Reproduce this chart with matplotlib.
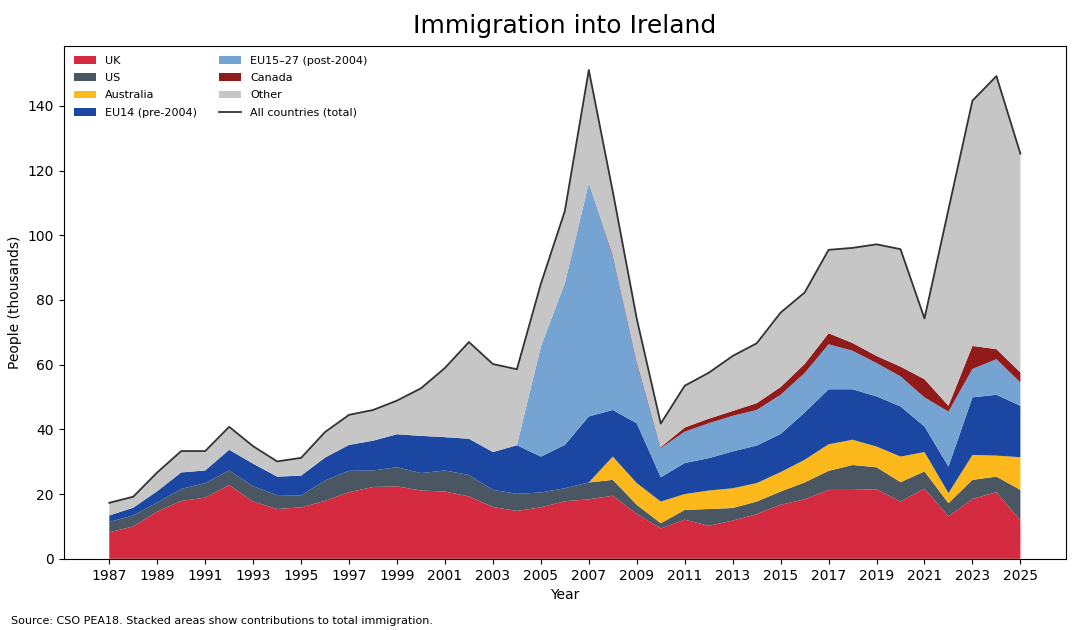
import numpy as np
import matplotlib
matplotlib.use("Agg")
import matplotlib.pyplot as plt

# Years covered by CSO PEA18
years = np.arange(1987, 2026)

# Immigration by origin (thousands)
uk = [8.2, 10.0, 14.6, 17.9, 18.9, 22.8, 17.7, 15.4, 15.9, 17.9, 20.6, 22.2, 22.4,
      21.1, 20.8, 19.3, 16.0, 14.8, 15.9, 17.8, 18.4, 19.5, 13.9, 9.4, 12.1, 10.2,
      11.8, 13.8, 16.7, 18.4, 21.3, 21.3, 21.5, 17.7, 21.7, 13.1, 18.5, 20.6, 11.8]
us = [3.2, 3.4, 2.8, 3.7, 4.5, 4.5, 4.7, 4.3, 3.7, 6.3, 6.6, 5.1, 5.9,
      5.4, 6.5, 6.6, 5.3, 5.3, 4.6, 4.0, 5.2, 4.9, 2.8, 1.6, 3.0, 5.2,
      3.9, 3.9, 4.1, 5.2, 5.9, 7.7, 6.8, 6.0, 5.3, 4.1, 5.9, 4.8, 9.5]
australia = [0, 0, 0, 0, 0, 0, 0, 0, 0, 0, 0, 0, 0,
             0, 0, 0, 0, 0, 0, 0, 0, 7.2, 6.7, 6.7, 4.9, 5.7,
             6.1, 5.7, 6.0, 7.0, 8.2, 7.8, 6.4, 7.9, 6.0, 3.1, 7.7, 6.5, 10.1]
eu14 = [2.0, 2.4, 3.5, 5.1, 3.9, 6.4, 7.0, 5.7, 6.1, 7.1, 8.0, 9.2, 10.2,
        11.5, 10.3, 11.2, 11.7, 15.0, 11.1, 13.4, 20.4, 14.4, 18.5, 7.5, 9.6, 10.0,
        11.4, 11.6, 11.8, 14.6, 17.0, 15.6, 15.5, 15.5, 7.9, 8.2, 17.8, 18.8, 15.9]
eu15_27 = [0, 0, 0, 0, 0, 0, 0, 0, 0, 0, 0, 0, 0,
           0, 0, 0, 0, 0, 34.0, 50.0, 72.1, 47.4, 18.6, 9.0, 9.7, 10.8,
           11.0, 11.0, 12.1, 12.2, 13.9, 11.9, 10.3, 9.3, 9.0, 17.0, 8.8, 11.0, 7.2]
canada = [0, 0, 0, 0, 0, 0, 0, 0, 0, 0, 0, 0, 0,
          0, 0, 0, 0, 0, 0, 0, 0, 0.5, 0.5, 0.3, 1.3, 1.4,
          1.5, 2.1, 2.4, 2.8, 3.4, 2.4, 2.2, 3.0, 5.6, 1.8, 7.1, 3.1, 3.1]
total = [17.3, 19.2, 26.7, 33.3, 33.3, 40.8, 34.8, 30.1, 31.2, 39.2, 44.5, 46.0, 48.9,
         52.7, 59.0, 67.0, 60.2, 58.6, 85.0, 107.5, 151.1, 113.5, 74.2, 41.8, 53.5, 57.5,
         62.7, 66.6, 76.1, 82.3, 95.5, 96.1, 97.2, 95.7, 74.3, 108.0, 141.6, 149.2, 125.2]

stack = [uk, us, australia, eu14, eu15_27, canada]
other = np.array(total) - np.sum(stack, axis=0)

labels = ["UK", "US", "Australia", "EU14 (pre-2004)", "EU15\u201327 (post-2004)",
          "Canada", "Other"]
colors = ["#d42b40", "#4a5661", "#fdb81b", "#1b47a2", "#75a4d3", "#911a1a", "#c6c6c6"]

fig, ax = plt.subplots(figsize=(10.8, 6.3), dpi=100)
fig.subplots_adjust(left=0.059, right=0.987, top=0.927, bottom=0.113)

ax.stackplot(years, *stack, other, labels=labels, colors=colors,
             edgecolor="none", linewidth=0.3)
ax.plot(years, total, color="#333333", linewidth=1.3, label="All countries (total)")

ax.set_title("Immigration into Ireland", fontsize=18, pad=9)
ax.set_xlabel("Year")
ax.set_ylabel("People (thousands)")
ax.set_xticks(years[::2])
ax.set_xlim(1985.1, 2026.9)
ax.set_ylim(0, 158.5)
ax.legend(loc="upper left", ncol=2, frameon=False, fontsize=8, labelspacing=0.65)

fig.text(0.01, 0.007, "Source: CSO PEA18. Stacked areas show contributions to total immigration.",
         fontsize=8, va="bottom")

fig.savefig("out.png", dpi=100)
